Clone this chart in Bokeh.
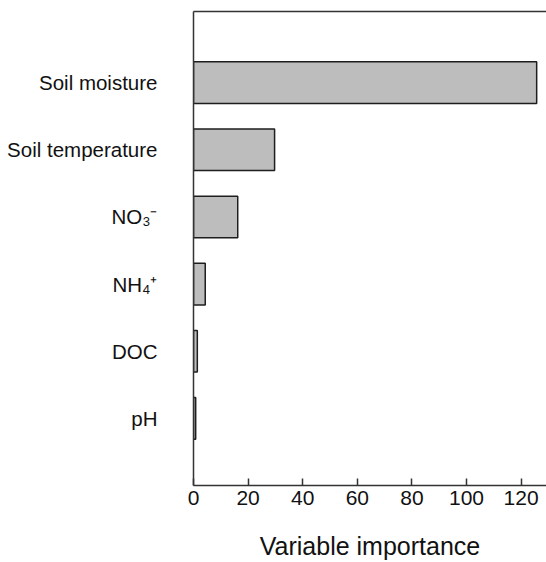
from bokeh.plotting import figure
from bokeh.models import Range1d, FixedTicker, LinearAxis
from bokeh.embed import file_html
from bokeh.resources import INLINE

# ---- data ----
categories = ["Soil moisture", "Soil temperature", "NO\u2083\u207b", "NH\u2084\u207a", "DOC", "pH"]
importance = [125.7, 29.7, 16.2, 4.3, 1.4, 0.8]
x_ticks = [0, 20, 40, 60, 80, 100, 120]

n = len(categories)
ypos = [n - i for i in range(n)]

p = figure(width=546, height=562, output_backend="svg", toolbar_location=None,
           x_range=Range1d(0, 129.3), y_range=Range1d(0, 7.06),
           min_border_left=193, min_border_right=0,
           min_border_top=11, min_border_bottom=77)
p.outline_line_color = None
p.grid.visible = False
p.background_fill_color = "white"
p.border_fill_color = "white"

p.hbar(y=ypos, right=importance, left=0, height=0.62,
       fill_color="#bdbdbd", line_color="#1e1e1e", line_width=1.5)

# x axis
xa = p.xaxis[0]
xa.ticker = FixedTicker(ticks=x_ticks)
xa.major_tick_in = 7
xa.major_tick_out = 0
xa.minor_tick_line_color = None
xa.axis_line_color = "#333333"
xa.axis_line_width = 1.5
xa.major_tick_line_color = "#333333"
xa.major_tick_line_width = 1.5
xa.major_label_text_font = "Liberation Sans"
xa.major_label_text_font_size = "21px"
xa.major_label_text_color = "#111111"
xa.major_label_standoff = 5
xa.axis_label = "Variable importance"
xa.axis_label_text_font = "Liberation Sans"
xa.axis_label_text_font_size = "25px"
xa.axis_label_text_font_style = "normal"
xa.axis_label_text_color = "#111111"
xa.axis_label_standoff = 24

# y axis: line plus category labels
ya = p.yaxis[0]
ya.ticker = FixedTicker(ticks=ypos)
ya.major_label_overrides = {y: c for y, c in zip(ypos, categories)}
ya.axis_line_color = "#333333"
ya.axis_line_width = 1.5
ya.major_tick_line_color = None
ya.major_tick_in = 0
ya.major_tick_out = 0
ya.minor_tick_line_color = None
ya.major_label_standoff = 36
ya.major_label_text_font = "Liberation Sans"
ya.major_label_text_font_size = "20.5px"
ya.major_label_text_color = "#111111"

# top border line
top = LinearAxis(ticker=FixedTicker(ticks=[]), axis_line_color="#333333",
                 axis_line_width=1.5, major_tick_line_color=None,
                 minor_tick_line_color=None)
p.add_layout(top, "above")

open("out.html", "w").write(file_html(p, INLINE))
